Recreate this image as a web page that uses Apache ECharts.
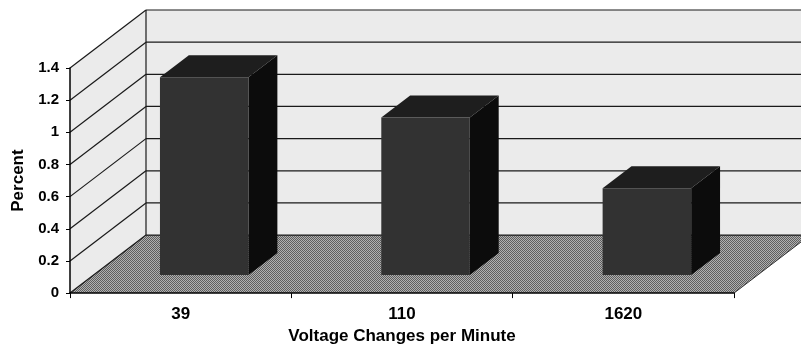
<!DOCTYPE html>
<html><head><meta charset="utf-8">
<script src="https://cdn.jsdelivr.net/npm/echarts@6/dist/echarts.min.js"></script>
<style>html,body{margin:0;padding:0;background:#fff;}#c{width:801px;height:350px;}</style>
</head><body><div id="c"></div>
<script>
const categories = ['39', '110', '1620'];
const percentValues = [1.23, 0.98, 0.54];
const yTicks = [0, 0.2, 0.4, 0.6, 0.8, 1, 1.2, 1.4];
const xTitle = 'Voltage Changes per Minute';
const yTitle = 'Percent';

const DX = 76, DY = -58;          // depth offset of the back wall
const F1 = 0.31, F2 = 0.69;       // bar depth (front / back) as fraction of depth
const BAR_FRAC = 0.4;

const pat = document.createElement('canvas');
pat.width = 2; pat.height = 2;
const pctx = pat.getContext('2d');
pctx.fillStyle = '#b0b0b0'; pctx.fillRect(0,0,2,2);
pctx.fillStyle = '#5e5e5e'; pctx.fillRect(0,0,1,1); pctx.fillRect(1,1,1,1);

const chart = echarts.init(document.getElementById('c'), null, {renderer: 'canvas'});
const lineStyle = {stroke: '#1a1a1a', lineWidth: 1.2};
const FF = '"Liberation Sans", Arial, sans-serif';

function frameRender(params, api) {
  const ymin = yTicks[0], ymax = yTicks[yTicks.length - 1];
  const n = categories.length;
  const x0 = api.coord([0, ymin])[0] - api.size([1, 0])[0] / 2;
  const x1 = api.coord([n - 1, ymin])[0] + api.size([1, 0])[0] / 2;
  const yb = api.coord([0, ymin])[1];
  const yt = api.coord([0, ymax])[1];
  const ch = [];
  ch.push({type: 'polygon', shape: {points: [[x0+DX, yt+DY],[x1+DX, yt+DY],[x1+DX, yb+DY],[x0+DX, yb+DY]]}, style: {fill: '#ebebeb'}});
  ch.push({type: 'polygon', shape: {points: [[x0, yb],[x0, yt],[x0+DX, yt+DY],[x0+DX, yb+DY]]}, style: {fill: '#ebebeb'}});
  ch.push({type: 'polygon', shape: {points: [[x0, yb],[x1, yb],[x1+DX, yb+DY],[x0+DX, yb+DY]]}, style: {fill: {image: pat, repeat: 'repeat'}}});
  yTicks.forEach(v => {
    const y = api.coord([0, v])[1];
    ch.push({type: 'line', shape: {x1: x0+DX, y1: y+DY, x2: x1+DX, y2: y+DY}, style: lineStyle});
    ch.push({type: 'line', shape: {x1: x0, y1: y, x2: x0+DX, y2: y+DY}, style: lineStyle});
  });
  ch.push({type: 'line', shape: {x1: x0+DX, y1: yt+DY, x2: x0+DX, y2: yb+DY}, style: lineStyle});
  ch.push({type: 'line', shape: {x1: x1, y1: yb, x2: x1+DX, y2: yb+DY}, style: {stroke: '#333', lineWidth: 1}});
  return {type: 'group', children: ch};
}

function barRender(params, api) {
  const i = api.value(0), v = api.value(1);
  const base = api.coord([i, 0]);
  const top = api.coord([i, v]);
  const w = api.size([1, 0])[0] * BAR_FRAC;
  const lx = base[0] - w / 2, rx = base[0] + w / 2;
  const fdx = F1 * DX, fdy = F1 * DY, bdx = F2 * DX, bdy = F2 * DY;
  const fl = lx + fdx, fr = rx + fdx, fb = base[1] + fdy, ft = top[1] + fdy;
  const bl = lx + bdx, br = rx + bdx, bb = base[1] + bdy, bt = top[1] + bdy;
  return {type: 'group', children: [
    {type: 'polygon', shape: {points: [[fr, ft],[br, bt],[br, bb],[fr, fb]]}, style: {fill: '#0c0c0c'}},
    {type: 'polygon', shape: {points: [[fl, ft],[fr, ft],[br, bt],[bl, bt]]}, style: {fill: '#1e1e1e'}},
    {type: 'rect', shape: {x: fl, y: ft, width: fr - fl, height: fb - ft}, style: {fill: '#323232'}}
  ]};
}

chart.setOption({
  animation: false,
  grid: {left: 70, right: 67, top: 68, bottom: 55, containLabel: false},
  xAxis: {
    type: 'category', data: categories, z: 5,
    name: xTitle, nameLocation: 'middle', nameGap: 32,
    nameTextStyle: {fontFamily: FF, fontWeight: 'bold', fontSize: 17, color: '#000'},
    axisLine: {lineStyle: {color: '#000', width: 1.5}},
    axisTick: {show: true, length: 5, lineStyle: {color: '#000'}},
    axisLabel: {margin: 13, fontFamily: FF, fontWeight: 'bold', fontSize: 17, color: '#000'},
    splitLine: {show: false}
  },
  yAxis: {
    type: 'value', min: yTicks[0], max: yTicks[yTicks.length - 1], interval: 0.2, z: 5,
    name: yTitle, nameLocation: 'middle', nameGap: 43,
    nameTextStyle: {fontFamily: FF, fontWeight: 'bold', fontSize: 17, color: '#000'},
    axisLine: {show: true, lineStyle: {color: '#000', width: 1.5}},
    axisTick: {show: true, length: 4, lineStyle: {color: '#000'}},
    axisLabel: {margin: 11, fontFamily: FF, fontWeight: 'bold', fontSize: 15, color: '#000',
      formatter: v => String(Math.round(v * 10) / 10)},
    splitLine: {show: false}
  },
  series: [
    {type: 'custom', renderItem: frameRender, data: [[0, 0]], z: 1, clip: false, silent: true},
    {type: 'custom', renderItem: barRender, data: categories.map((c, i) => [i, percentValues[i]]), z: 2, clip: false}
  ]
});
</script></body></html>
